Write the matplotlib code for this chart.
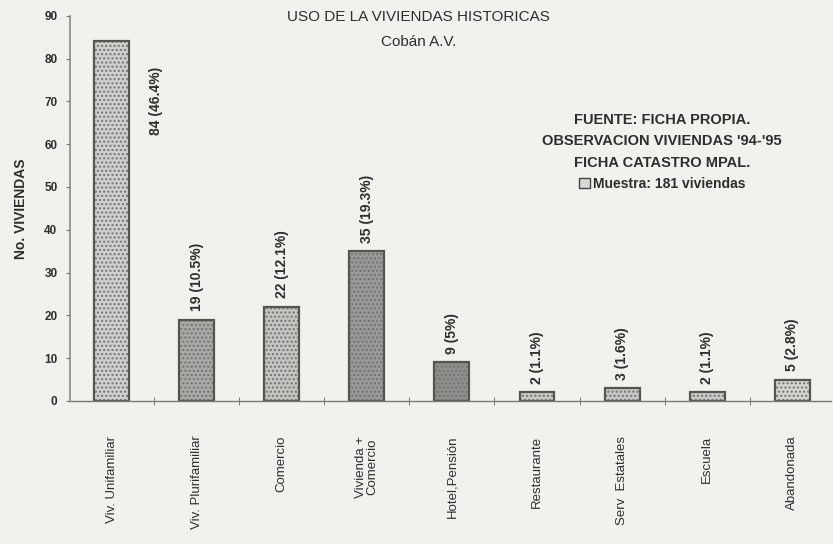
import matplotlib
matplotlib.use("Agg")
import matplotlib.pyplot as plt
from matplotlib.patches import Patch
import numpy as np

plt.rcParams['font.family'] = ['Liberation Sans', 'DejaVu Sans']

categories = ["Viv. Unifamiliar", "Viv. Plurifamiliar", "Comercio", "Vivienda +\nComercio",
              "Hotel,Pensión", "Restaurante", "Serv  Estatales", "Escuela", "Abandonada"]
values = [84, 19, 22, 35, 9, 2, 3, 2, 5]
value_labels = ["84 (46.4%)", "19 (10.5%)", "22 (12.1%)", "35 (19.3%)", "9 (5%)",
                "2 (1.1%)", "3 (1.6%)", "2 (1.1%)", "5 (2.8%)"]
yticks = [0, 10, 20, 30, 40, 50, 60, 70, 80, 90]
total = 181

fills = ["#cfcfcb", "#a8a8a4", "#c4c4c0", "#999995", "#8e8e8a",
         "#c8c8c4", "#c6c6c2", "#c8c8c4", "#d4d4d0"]

bg = "#f1f1ed"
ink = "#2e2e2e"

fig = plt.figure(figsize=(8.33, 5.44), dpi=100, facecolor=bg)
ax = fig.add_axes([0.084, 0.263, 0.914, 0.708], facecolor=bg)

x = np.arange(len(categories))
bars = ax.bar(x, values, width=0.41, color=fills, edgecolor="#555552",
              linewidth=1.6, hatch="....", zorder=2)
for b in bars:
    b._hatch_color = (0.45, 0.45, 0.45, 1.0)

# value labels: the tallest beside its bar, the rest above
for i, (v, lab) in enumerate(zip(values, value_labels)):
    if i == 0:
        ax.text(i + 0.52, v - 6, lab, rotation=90, ha="center", va="top",
                fontsize=10, fontweight="bold", color=ink)
    else:
        ax.text(i, v + 2, lab, rotation=90, ha="center", va="bottom",
                fontsize=10, fontweight="bold", color=ink)

ax.set_xlim(-0.49, 8.46)
ax.set_ylim(0, 90)
ax.set_yticks(yticks)
ax.set_yticklabels([str(t) for t in yticks], fontsize=8.5, fontweight="bold", color=ink)
ax.tick_params(axis="y", length=3, color="#777", pad=6)

ax.set_xticks(x)
ax.set_xticklabels(categories, rotation=90, fontsize=9.5, color=ink, va="top",
                   ha="center", linespacing=0.95)
ax.tick_params(axis="x", length=0, pad=25)
ax.set_xticks(x[:-1] + 0.5, minor=True)
ax.tick_params(axis="x", which="minor", length=6, direction="inout", color="#666")

for s in ("top", "right"):
    ax.spines[s].set_visible(False)
ax.spines["left"].set_color("#8a8a86")
ax.spines["left"].set_linewidth(1.2)
ax.spines["bottom"].set_color("#7a7a76")
ax.spines["bottom"].set_linewidth(1.0)

ax.set_ylabel("No. VIVIENDAS", fontsize=10, fontweight="bold", color=ink, labelpad=12)

fig.text(0.502, 0.968, "USO DE LA VIVIENDAS HISTORICAS", ha="center", va="center",
         fontsize=11, color=ink)
fig.text(0.502, 0.922, "Cobán A.V.", ha="center", va="center", fontsize=11, color=ink)

notes = ["FUENTE: FICHA PROPIA.", "OBSERVACION VIVIENDAS '94-'95", "FICHA CATASTRO MPAL."]
for k, line in enumerate(notes):
    fig.text(0.795, 0.779 - k * 0.039, line, ha="center", va="center",
             fontsize=10.5, fontweight="bold", color=ink)

handle = Patch(facecolor="#d8d8d4", edgecolor="#444", linewidth=1.0)
leg = fig.legend([handle], [f"Muestra: {total} viviendas"], loc="center",
                 bbox_to_anchor=(0.795, 0.662), frameon=False, handlelength=0.8,
                 handleheight=0.8, handletextpad=0.2,
                 prop={"size": 10, "weight": "bold"})
for t in leg.get_texts():
    t.set_color(ink)

fig.savefig("out.png", dpi=100, facecolor=bg)
